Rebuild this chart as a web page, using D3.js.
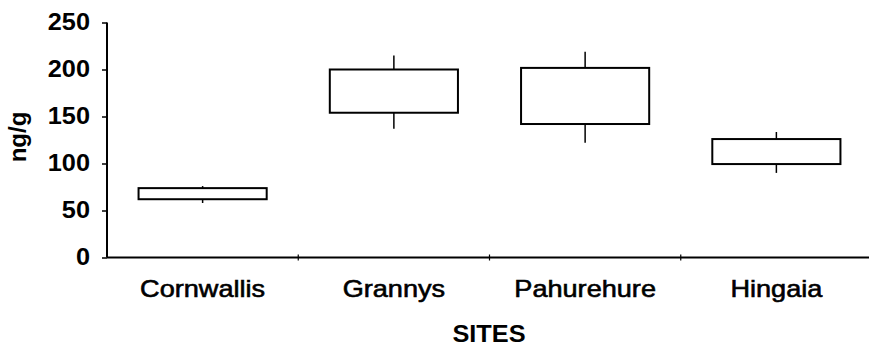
<!DOCTYPE html>
<html>
<head>
<meta charset="utf-8">
<script src="https://cdn.jsdelivr.net/npm/d3@7"></script>
<style>
  body { margin: 0; background: #fff; }
  svg { display: block; }
  text { font-family: "Liberation Sans", Arial, sans-serif; fill: #000; }
</style>
</head>
<body>
<svg width="869" height="349"></svg>
<script>
// site names along the x axis
var sites = ['Cornwallis', 'Grannys', 'Pahurehure', 'Hingaia']

// box plot values (ng/g)
var whiskerMax = [76, 215, 219, 133.5]
var boxTop     = [73.8, 200, 201.7, 126]
var boxBottom  = [62, 154, 142, 99.4]
var whiskerMin = [58, 137, 122, 90]

var yTicks = [0, 50, 100, 150, 200, 250]

var svg = d3.select('svg')
var stretch = 'scale(1.1,1)'

var x = d3.scaleBand()
  .domain(sites)
  .range([107, 872])
  .padding(0)

var y = d3.scaleLinear()
  .domain([0, 250])
  .range([257.5, 22.5])

var rows = sites.map((s, i) => ({
  site: s,
  hi: whiskerMax[i],
  q3: boxTop[i],
  q1: boxBottom[i],
  lo: whiskerMin[i]
}))

// whiskers first, boxes drawn over them
var boxW = x.bandwidth() * 0.67

svg.selectAll('line.whisker')
  .data(rows)
  .enter()
  .append('line')
  .attr('class', 'whisker')
  .attr('x1', d => x(d.site) + x.bandwidth() / 2)
  .attr('x2', d => x(d.site) + x.bandwidth() / 2)
  .attr('y1', d => y(d.hi))
  .attr('y2', d => y(d.lo))
  .style('stroke', '#000')
  .style('stroke-width', 1.5)

svg.selectAll('rect.box')
  .data(rows)
  .enter()
  .append('rect')
  .attr('class', 'box')
  .attr('x', d => x(d.site) + (x.bandwidth() - boxW) / 2)
  .attr('width', boxW)
  .attr('y', d => y(d.q3))
  .attr('height', d => y(d.q1) - y(d.q3))
  .style('fill', '#fff')
  .style('stroke', '#000')
  .style('stroke-width', 2)

// y axis
var yAxis = svg.append('g')
  .attr('transform', 'translate(107,0)')
  .call(d3.axisLeft(y).tickValues(yTicks).tickSize(5).tickPadding(10.5))

yAxis.select('.domain').attr('d', 'M0,' + y(250) + 'V' + y(0)).style('stroke-width', 2)
yAxis.selectAll('.tick line').style('stroke-width', 1.5)
yAxis.selectAll('text')
  .style('font-size', '23px')
  .style('font-weight', 'bold')
  .style('font-family', '"Liberation Sans", Arial, sans-serif')
  .attr('transform', stretch)

// x axis: labels at band centres, small ticks at band edges
var xAxis = svg.append('g')
  .attr('transform', 'translate(0,' + y(0) + ')')
  .call(d3.axisBottom(x).tickSize(0).tickPadding(22.5))

xAxis.select('.domain').attr('d', 'M107,0H869').style('stroke-width', 2)
xAxis.selectAll('text')
  .style('font-size', '24px')
  .style('font-weight', 'normal')
  .style('font-family', '"Liberation Sans", Arial, sans-serif')
  .style('stroke', '#000')
  .style('stroke-width', 0.6)
  .attr('transform', 'scale(1.13,1)')

var edges = sites.slice(1).map(s => x(s))
xAxis.selectAll('line.edge')
  .data(edges)
  .enter()
  .append('line')
  .attr('class', 'edge')
  .attr('x1', d => d)
  .attr('x2', d => d)
  .attr('y1', -3)
  .attr('y2', 3)
  .style('stroke', '#000')
  .style('stroke-width', 1.2)

// axis titles
svg.append('text')
  .attr('transform', 'translate(489,342) ' + stretch)
  .attr('text-anchor', 'middle')
  .style('font-size', '23px')
  .style('font-weight', 'bold')
  .text('SITES')

svg.append('text')
  .attr('transform', 'translate(26,137) rotate(-90)')
  .attr('text-anchor', 'middle')
  .style('font-size', '24px')
  .style('font-weight', 'bold')
  .text('ng/g')
</script>
</body>
</html>
